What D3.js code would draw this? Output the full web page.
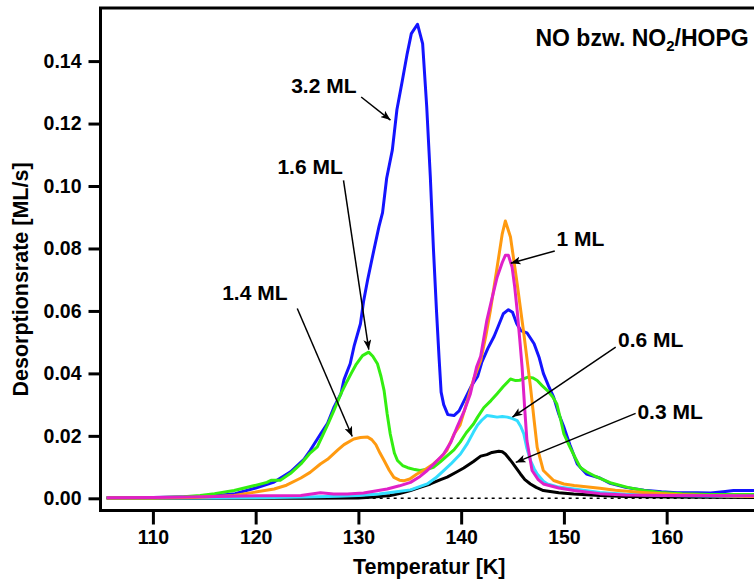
<!DOCTYPE html>
<html>
<head>
<meta charset="utf-8">
<script src="https://cdn.jsdelivr.net/npm/d3@7"></script>
<style>
  html, body { margin: 0; padding: 0; background: #fff; }
  svg { display: block; }
  text { font-family: "Liberation Sans", Arial, Helvetica, sans-serif; font-weight: bold; fill: #000; }
</style>
</head>
<body>
<svg id="chart" width="754" height="581"></svg>
<script>
// TPD spectra of NO / NO2 on HOPG: temperature [K] vs desorption rate [ML/s]
const cov32 = [[105.5,0.0003],[110,0.0003],[114,0.0005],[116,0.0008],[118,0.0015],[120,0.0033],[121.8,0.0052],[123.4,0.0085],[124.7,0.0125],[125.3,0.0153],[126.3,0.0205],[127.0,0.024],[127.6,0.029],[128.3,0.0335],[128.6,0.038],[129.2,0.0431],[129.6,0.049],[130.2,0.0559],[130.5,0.063],[130.9,0.070],[131.5,0.0794],[132.0,0.087],[132.35,0.0915],[132.75,0.1025],[133.3,0.1115],[133.75,0.1245],[134.25,0.1333],[134.75,0.1424],[135.15,0.1488],[135.75,0.1518],[136.25,0.1456],[136.65,0.1253],[137.0,0.1029],[137.3,0.080],[137.6,0.060],[137.85,0.045],[138.05,0.034],[138.3,0.030],[138.7,0.0268],[139.3,0.0265],[139.8,0.028],[140.4,0.032],[141.0,0.036],[141.6,0.039],[142.0,0.0435],[142.6,0.048],[143.2,0.0518],[143.6,0.055],[144.1,0.0591],[144.6,0.0604],[145.0,0.0596],[145.4,0.056],[145.8,0.0537],[146.4,0.053],[146.8,0.051],[147.1,0.0495],[147.6,0.045],[148.0,0.040],[148.5,0.036],[149.0,0.0324],[149.5,0.027],[150.0,0.0228],[150.6,0.017],[151.3,0.011],[152.2,0.0078],[153.5,0.0065],[154.5,0.0048],[156.0,0.0035],[157.8,0.0026],[159.5,0.0021],[161.0,0.0018],[163.0,0.0018],[164.3,0.0017],[165.5,0.0021],[166.5,0.0025],[168.5,0.0025]];
const cov16 = [[105.5,0.0002],[110,0.0002],[113,0.0005],[114.6,0.0009],[116,0.0015],[117.9,0.0025],[119.8,0.004],[121.1,0.0051],[121.5,0.0058],[122.4,0.0058],[123.4,0.008],[124.4,0.011],[125.3,0.0145],[126.0,0.0165],[127.0,0.0235],[127.6,0.028],[128.3,0.0335],[128.9,0.0375],[129.3,0.040],[129.8,0.043],[130.4,0.0457],[131.0,0.0468],[131.4,0.0455],[131.85,0.0431],[132.2,0.039],[132.5,0.0345],[132.8,0.027],[133.1,0.0206],[133.5,0.0145],[133.8,0.0121],[134.3,0.0105],[134.8,0.0098],[135.5,0.0092],[136.0,0.0089],[136.7,0.0093],[137.3,0.0099],[138.0,0.0118],[138.6,0.0135],[139.3,0.0155],[139.9,0.018],[140.5,0.021],[141.2,0.0238],[141.6,0.026],[142.2,0.029],[142.9,0.0313],[143.5,0.0335],[144.1,0.0358],[144.8,0.0382],[145.3,0.0377],[145.7,0.0378],[146.5,0.0388],[147.0,0.0385],[147.4,0.0377],[147.9,0.036],[148.4,0.0345],[148.9,0.0325],[149.3,0.0303],[149.7,0.025],[150.0,0.0206],[150.6,0.0163],[151.1,0.013],[151.6,0.0099],[152.2,0.0085],[152.9,0.0073],[154.5,0.005],[156.2,0.0035],[157.8,0.0025],[159.4,0.0019],[161.5,0.0015],[164.3,0.0012],[168.5,0.0012]];
const cov14 = [[105.5,0.0001],[110,0.0001],[114,0.0003],[117.9,0.0009],[119.8,0.0019],[121.8,0.003],[123.0,0.0042],[124.4,0.0065],[125.3,0.0083],[126.3,0.011],[127.0,0.0125],[128.0,0.0155],[128.6,0.0172],[129.55,0.019],[130.2,0.0195],[130.9,0.0196],[131.3,0.0188],[131.7,0.0172],[132.1,0.0145],[132.5,0.0121],[133.0,0.009],[133.45,0.0067],[134.0,0.0058],[134.4,0.0056],[135.0,0.0062],[135.7,0.0078],[136.5,0.0092],[137.3,0.011],[138.0,0.013],[138.6,0.0153],[139.3,0.0205],[139.9,0.0235],[140.6,0.0313],[141.2,0.038],[141.9,0.0441],[142.4,0.052],[142.85,0.0602],[143.5,0.074],[144.0,0.0847],[144.3,0.0888],[144.8,0.0837],[145.45,0.0687],[146.1,0.0527],[146.75,0.0356],[147.1,0.025],[147.4,0.0163],[148.0,0.0089],[149.0,0.0057],[150.0,0.0046],[151.0,0.0041],[153.5,0.0032],[155.0,0.0026],[158.0,0.0018],[161.0,0.0012],[164.0,0.0009],[168.5,0.0006]];
const cov10 = [[105.5,0.0002],[110,0.0003],[115,0.0005],[120,0.0008],[124.4,0.0009],[126.3,0.0018],[127.6,0.0014],[128.9,0.0014],[130.5,0.0017],[131.8,0.0024],[132.8,0.003],[134.0,0.004],[135.07,0.0051],[136.0,0.007],[136.7,0.0089],[137.5,0.0115],[138.3,0.0142],[139.0,0.018],[139.6,0.0228],[140.3,0.028],[140.9,0.0335],[141.5,0.042],[141.9,0.0455],[142.5,0.057],[143.0,0.064],[143.5,0.0708],[144.0,0.0755],[144.3,0.0778],[144.6,0.0778],[144.96,0.074],[145.2,0.068],[145.45,0.0602],[145.7,0.051],[145.93,0.042],[146.2,0.028],[146.4,0.0185],[146.9,0.0089],[147.5,0.006],[148.0,0.0046],[149.5,0.0033],[151.0,0.0025],[153.5,0.0015],[156.0,0.0011],[160.0,0.0009],[168.5,0.0008]];
const cov06 = [[105.5,0.0001],[115,0.0001],[120,0.0002],[125,0.0004],[128,0.0007],[130,0.0009],[132,0.0014],[133.5,0.002],[135.07,0.0027],[136.7,0.0046],[137.5,0.0065],[138.3,0.0089],[139.0,0.011],[139.93,0.0142],[140.6,0.0175],[141.2,0.0212],[141.6,0.0235],[142.0,0.025],[142.5,0.0265],[143.0,0.0263],[143.5,0.026],[144.0,0.0262],[144.5,0.026],[145.0,0.0255],[145.45,0.0249],[145.8,0.023],[146.1,0.0206],[146.4,0.016],[146.75,0.0121],[147.1,0.0095],[147.4,0.0078],[148.0,0.0055],[148.4,0.0046],[149.5,0.0036],[151.0,0.003],[153.5,0.0019],[156.0,0.0013],[160.0,0.0009],[168.5,0.0006]];
const cov03 = [[105.5,0],[115,0],[125,0],[130,0.0001],[131.5,0.0004],[133.1,0.0009],[134.0,0.0015],[135.07,0.0025],[136.0,0.0035],[137.0,0.0046],[138.0,0.006],[138.64,0.0068],[139.6,0.0085],[140.25,0.0097],[141.2,0.0118],[141.9,0.0135],[142.5,0.014],[143.0,0.0147],[143.66,0.0151],[144.0,0.0149],[144.3,0.0142],[144.6,0.013],[144.96,0.0115],[145.4,0.0095],[145.77,0.0078],[146.2,0.006],[146.74,0.0046],[147.3,0.0035],[148.0,0.0025],[149.5,0.0018],[150.95,0.0014],[153.5,0.0009],[156.0,0.0006],[160.0,0.0004],[168.5,0.0003]];

// drawing order: bottom to top
const seriesData   = [cov03, cov06, cov32, cov16, cov14, cov10];
const seriesColors = ["#000000", "#33ddff", "#1414ff", "#33ee11", "#ff9a10", "#e020c8"];

const xTicks = [110, 120, 130, 140, 150, 160];
const yTicks = [0, 0.02, 0.04, 0.06, 0.08, 0.10, 0.12, 0.14];
const xDomain = [104.9, 168.5];
const yDomain = [-0.0039, 0.1570];

// coverage labels: text anchor point, arrow start, arrow tip (data units)
const labelTexts  = ["3.2 ML", "1.6 ML", "1.4 ML", "1 ML", "0.6 ML", "0.3 ML"];
const labelAnchor = ["end", "end", "end", "start", "start", "start"];
const labelPos    = [[129.82,0.1299],[128.48,0.1040],[123.10,0.0634],[149.27,0.0807],[155.27,0.0484],[157.15,0.0254]];
const arrowFrom   = [[130.27,0.1285],[128.55,0.1018],[124.05,0.0608],[149.11,0.0792],[155.04,0.0484],[156.98,0.0272]];
const arrowTo     = [[133.12,0.1211],[131.01,0.0476],[129.40,0.0198],[144.82,0.0753],[144.99,0.0260],[145.31,0.0115]];

const svg = d3.select("#chart");
const plotLeft = 100.5, plotRight = 754, plotTop = 8, plotBottom = 510.5;

const x = d3.scaleLinear().domain(xDomain).range([plotLeft, plotRight]);
const y = d3.scaleLinear().domain(yDomain).range([plotBottom, plotTop]);

const defs = svg.append("defs");
defs.append("clipPath").attr("id", "plotClip")
  .append("rect").attr("x", plotLeft).attr("y", plotTop)
  .attr("width", plotRight - plotLeft).attr("height", plotBottom - plotTop);

defs.append("marker")
  .attr("id", "arrowHead").attr("viewBox", "0 0 10 8").attr("refX", 10).attr("refY", 4)
  .attr("markerWidth", 10).attr("markerHeight", 8).attr("markerUnits", "userSpaceOnUse")
  .attr("orient", "auto")
  .append("path").attr("d", "M0,0 L10,4 L0,8 L2.5,4 Z").attr("fill", "#000");

// dotted zero line
svg.append("line")
  .attr("x1", x(105.5)).attr("x2", plotRight)
  .attr("y1", y(0)).attr("y2", y(0))
  .attr("stroke", "#000").attr("stroke-width", 1.5).attr("stroke-dasharray", "3,4");

// spectra
const line = d3.line().x(d => x(d[0])).y(d => y(d[1])).curve(d3.curveLinear);
svg.append("g").attr("clip-path", "url(#plotClip)")
  .selectAll("path").data(seriesData).join("path")
  .attr("d", line).attr("fill", "none")
  .attr("stroke", (d, i) => seriesColors[i])
  .attr("stroke-width", 3).attr("stroke-linejoin", "round");

// axes
const yAxis = d3.axisLeft(y).tickValues(yTicks).tickFormat(d3.format(".2f")).tickSize(12).tickPadding(7).tickSizeOuter(0);
const xAxis = d3.axisBottom(x).tickValues(xTicks).tickFormat(d3.format("d")).tickSize(14).tickPadding(6).tickSizeOuter(0);

const gy = svg.append("g").attr("transform", `translate(${plotLeft},0)`).call(yAxis);
const gx = svg.append("g").attr("transform", `translate(0,${plotBottom})`).call(xAxis);
[gx, gy].forEach(g => {
  g.select(".domain").remove();
  g.selectAll(".tick line").attr("stroke", "#000").attr("stroke-width", 3);
  g.selectAll(".tick text").style("font-size", "19.5px").style("font-weight", "bold")
    .style("font-family", '"Liberation Sans", Arial, Helvetica, sans-serif').attr("fill", "#000");
});

// frame: top, left, bottom
svg.append("path")
  .attr("d", `M${plotRight},${plotTop} H${plotLeft} V${plotBottom} H${plotRight}`)
  .attr("fill", "none").attr("stroke", "#000").attr("stroke-width", 3).attr("stroke-linejoin", "miter");

// axis titles
svg.append("text").attr("x", (plotLeft + plotRight) / 2 + 2).attr("y", 574)
  .attr("text-anchor", "middle").style("font-size", "21.5px").text("Temperatur [K]");
svg.append("text").attr("transform", "translate(28,279.5) rotate(-90)")
  .attr("text-anchor", "middle").style("font-size", "21.5px").text("Desorptionsrate [ML/s]");

// title
const title = svg.append("text").attr("x", 748.7).attr("y", 45.7).attr("text-anchor", "end").style("font-size", "23px");
title.append("tspan").text("NO bzw. NO");
title.append("tspan").attr("dy", 5).style("font-size", "15px").text("2");
title.append("tspan").attr("dy", -5).text("/HOPG");

// coverage labels with arrows
const ann = svg.append("g");
ann.selectAll("line").data(labelTexts).join("line")
  .attr("x1", (d, i) => x(arrowFrom[i][0])).attr("y1", (d, i) => y(arrowFrom[i][1]))
  .attr("x2", (d, i) => x(arrowTo[i][0])).attr("y2", (d, i) => y(arrowTo[i][1]))
  .attr("stroke", "#000").attr("stroke-width", 1.5).attr("marker-end", "url(#arrowHead)");
ann.selectAll("text").data(labelTexts).join("text")
  .attr("x", (d, i) => x(labelPos[i][0])).attr("y", (d, i) => y(labelPos[i][1]))
  .attr("text-anchor", (d, i) => labelAnchor[i])
  .style("font-size", "21px").text(d => d);
</script>
</body>
</html>
